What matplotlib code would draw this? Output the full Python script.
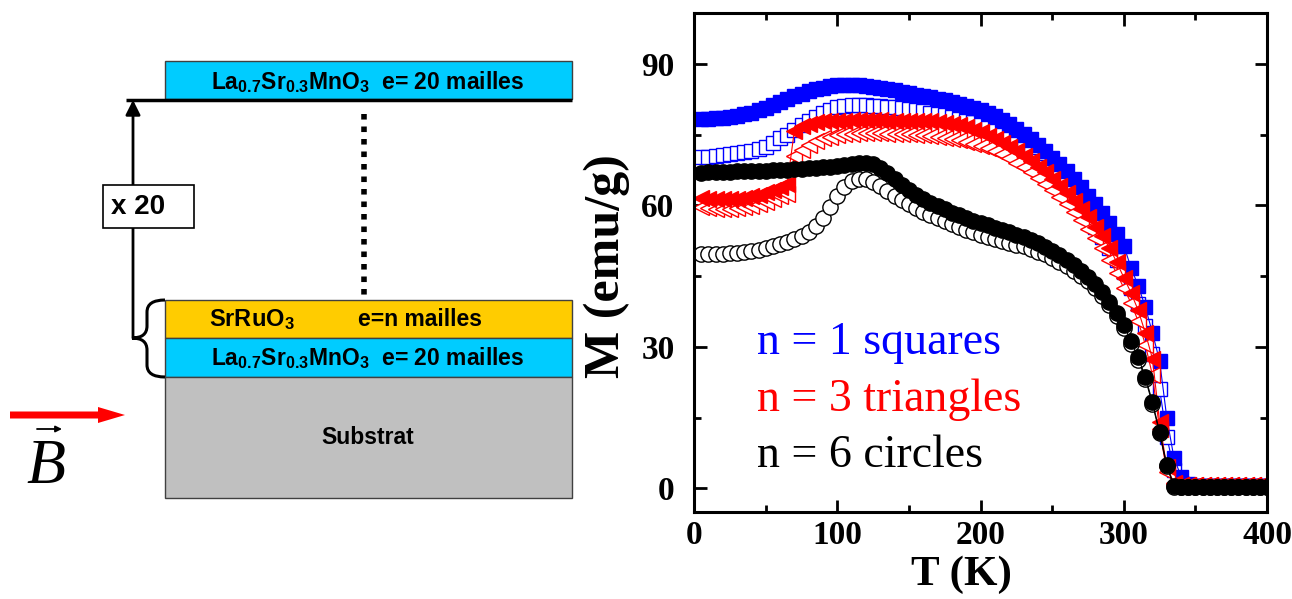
import matplotlib
matplotlib.use('Agg')
import matplotlib.pyplot as plt
from matplotlib.patches import Rectangle, FancyArrow, PathPatch
from matplotlib.path import Path

plt.rcParams['mathtext.fontset'] = 'custom'
plt.rcParams['mathtext.rm'] = 'Liberation Sans:bold'
plt.rcParams['mathtext.default'] = 'rm'

# temperature grid of the measurements (K)
T = list(range(5, 405, 5))

# n = 1 (squares), blue
m1_filled = [78.3, 78.4, 78.5, 78.6, 78.8, 79.0, 79.3, 79.7, 80.2, 80.7,
             81.3, 81.9, 82.5, 83.1, 83.7, 84.2, 84.6, 85.0, 85.3, 85.5,
             85.6, 85.6, 85.5, 85.3, 85.1, 84.9, 84.7, 84.4, 84.1, 83.8,
             83.5, 83.2, 82.9, 82.6, 82.3, 81.9, 81.5, 81.1, 80.7, 80.2,
             79.6, 78.9, 78.2, 77.3, 76.3, 75.2, 74.0, 72.8, 71.5, 70.1,
             68.7, 67.2, 65.6, 63.9, 62.1, 60.2, 58.3, 56.3, 54.0, 51.5,
             46.8, 43.0, 38.5, 33.0, 27.0, 15.0, 6.5, 2.5, 1.0, 0.6,
             0.5, 0.5, 0.5, 0.5, 0.5, 0.5, 0.5, 0.5, 0.5, 0.5]
m1_open = [70.2, 70.3, 70.5, 70.7, 70.9, 71.1, 71.3, 71.6, 71.9, 72.4,
           73.2, 74.2, 75.0, 76.0, 77.0, 77.9, 78.8, 79.6, 80.3, 80.8,
           81.1, 81.3, 81.3, 81.2, 81.1, 81.0, 80.9, 80.8, 80.6, 80.4,
           80.2, 80.0, 79.7, 79.4, 79.1, 78.8, 78.4, 78.0, 77.6, 77.1,
           76.5, 75.8, 75.0, 74.1, 73.1, 72.0, 70.8, 69.5, 68.1, 66.6,
           65.0, 63.3, 61.5, 59.6, 57.6, 55.5, 53.3, 51.0, 48.5, 45.8,
           42.5, 39.0, 34.5, 28.5, 21.0, 11.0, 4.0, 1.2, 0.7, 0.6,
           0.6, 0.6, 0.6, 0.6, 0.6, 0.6, 0.6, 0.6, 0.6, 0.6]

# n = 3 (triangles), red
m3_filled = [61.6, 61.4, 61.3, 61.3, 61.3, 61.4, 61.6, 61.9, 62.3, 62.8,
             63.3, 63.9, 64.5, 75.8, 76.8, 77.3, 77.6, 77.8, 77.9, 78.0,
             78.0, 78.1, 78.1, 78.1, 78.1, 78.1, 78.0, 78.0, 78.0, 78.0,
             77.9, 77.9, 77.8, 77.7, 77.5, 77.3, 77.0, 76.6, 76.1, 75.5,
             74.8, 74.1, 73.3, 72.4, 71.5, 70.5, 69.4, 68.2, 67.0, 65.6,
             64.2, 62.7, 61.0, 59.3, 57.5, 55.5, 53.5, 51.0, 48.0, 44.7,
             41.5, 37.8, 33.0, 27.5, 14.0, 4.5, 1.2, 0.8, 0.8, 0.8,
             0.8, 0.8, 0.8, 0.8, 0.8, 0.8, 0.8, 0.8, 0.8, 0.8]
m3_open = [59.6, 59.4, 59.3, 59.3, 59.3, 59.4, 59.6, 59.9, 60.3, 60.8,
           61.3, 61.9, 62.5, 70.5, 71.8, 72.8, 73.6, 74.2, 74.6, 74.9,
           75.1, 75.2, 75.3, 75.3, 75.3, 75.3, 75.2, 75.2, 75.1, 75.1,
           75.0, 74.9, 74.8, 74.6, 74.4, 74.1, 73.8, 73.4, 73.0, 72.6,
           72.2, 71.5, 70.8, 70.0, 69.1, 68.1, 67.0, 65.8, 64.6, 63.2,
           61.8, 60.3, 58.7, 57.0, 55.1, 53.1, 50.9, 48.5, 45.6, 42.5,
           39.3, 35.5, 30.5, 24.0, 12.5, 3.5, 1.0, 0.8, 0.8, 0.8,
           0.8, 0.8, 0.8, 0.8, 0.8, 0.8, 0.8, 0.8, 0.8, 0.8]

# n = 6 (circles), black
m6_filled = [66.9, 67.0, 67.0, 67.1, 67.1, 67.2, 67.2, 67.3, 67.3, 67.4,
             67.5, 67.5, 67.6, 67.7, 67.8, 67.9, 68.0, 68.1, 68.2, 68.4,
             68.5, 68.7, 68.9, 69.0, 68.8, 67.9, 66.8, 65.6, 64.4, 63.3,
             62.3, 61.4, 60.6, 59.9, 59.2, 58.5, 57.9, 57.3, 56.8, 56.3,
             55.8, 55.3, 54.8, 54.3, 53.8, 53.3, 52.7, 52.0, 51.2, 50.4,
             49.5, 48.5, 47.4, 46.2, 44.9, 43.4, 41.6, 39.5, 37.2, 34.7,
             31.2, 27.8, 23.7, 18.3, 12.0, 5.0, 0.6, 0.4, 0.4, 0.4,
             0.4, 0.4, 0.4, 0.4, 0.4, 0.4, 0.4, 0.4, 0.4, 0.4]
m6_open = [49.6, 49.6, 49.7, 49.8, 49.9, 50.0, 50.2, 50.4, 50.6, 50.9,
           51.3, 51.8, 52.3, 52.8, 53.5, 54.4, 55.6, 57.3, 59.6, 62.0,
           64.0, 65.2, 65.7, 65.6, 65.0, 64.1, 63.1, 62.1, 61.2, 60.3,
           59.5, 58.7, 58.0, 57.3, 56.6, 56.0, 55.4, 54.8, 54.3, 53.8,
           53.3, 52.9, 52.5, 52.1, 51.7, 51.3, 50.8, 50.2, 49.6, 48.9,
           48.1, 47.2, 46.2, 45.1, 43.9, 42.5, 40.8, 38.8, 36.6, 34.1,
           30.7, 27.3, 23.3, 17.9, 11.7, 4.7, 0.3, 0.2, 0.2, 0.2,
           0.2, 0.2, 0.2, 0.2, 0.2, 0.2, 0.2, 0.2, 0.2, 0.2]

legend_lines = ['n = 1 squares', 'n = 3 triangles', 'n = 6 circles']
legend_colors = ['#0000FF', '#FF0000', '#000000']

CYAN, GOLD, GREY = '#00CCFF', '#FFCC00', '#C0C0C0'
SANS_B = dict(family='Liberation Sans', weight='bold')
SERIF_B = dict(family='Liberation Serif', weight='bold')

fig = plt.figure(figsize=(12.92, 5.99), dpi=100)

# ---- left: layer schematic, drawn in pixel units ----
sk = fig.add_axes([0, 0, 1, 1])
sk.set_xlim(0, 1292)
sk.set_ylim(599, 0)
sk.axis('off')

for y0, y1, c in [(61, 99, CYAN), (300, 338, GOLD), (338, 377, CYAN), (377, 498, GREY)]:
    sk.add_patch(Rectangle((165, y0), 407, y1 - y0, facecolor=c,
                           edgecolor='#404040', lw=1))
lsmo = r'La$_{0.7}$Sr$_{0.3}$MnO$_3$  e= 20 mailles'
sk.text(368, 82, lsmo, ha='center', va='center', fontsize=16.5, **SANS_B)
sk.text(368, 358, lsmo, ha='center', va='center', fontsize=16.5, **SANS_B)
sk.text(252, 320, r'SrRuO$_3$', ha='center', va='center', fontsize=17, **SANS_B)
sk.text(420, 320, 'e=n mailles', ha='center', va='center', fontsize=16.5, **SANS_B)
sk.text(368, 438, 'Substrat', ha='center', va='center', fontsize=16.5, **SANS_B)

sk.plot([126, 572], [99.5, 99.5], color='black', lw=2.5, solid_capstyle='butt')
sk.plot([364, 364], [114, 298], color='black', lw=4, linestyle=(0, (1, 1.25)),
        dash_capstyle='butt')
sk.annotate('', xy=(133, 100), xytext=(133, 338),
            arrowprops=dict(arrowstyle='-|>', color='black', lw=2,
                            mutation_scale=22, shrinkA=0, shrinkB=0))
sk.add_patch(Rectangle((103, 185), 91, 43, facecolor='white', edgecolor='black',
                       lw=1.2, zorder=3))
sk.text(111, 207, 'x 20', ha='left', va='center', fontsize=20, zorder=4, **SANS_B)

brace = Path([(165, 300), (147, 300), (147, 312), (147, 326), (147, 338), (132, 338),
              (147, 338), (147, 350), (147, 365), (147, 377), (165, 377)],
             [Path.MOVETO, Path.CURVE3, Path.CURVE3, Path.LINETO, Path.CURVE3, Path.CURVE3,
              Path.CURVE3, Path.CURVE3, Path.LINETO, Path.CURVE3, Path.CURVE3])
sk.add_patch(PathPatch(brace, facecolor='none', edgecolor='black', lw=2.2))

sk.add_patch(FancyArrow(10, 415, 115, 0, width=7, head_width=16, head_length=27,
                        length_includes_head=True, color='red', lw=0))
sk.text(46, 483, 'B', fontsize=46, family='Liberation Serif', style='italic',
        ha='center', va='baseline')
sk.annotate('', xy=(62, 429), xytext=(37, 429),
            arrowprops=dict(arrowstyle='-|>', color='black', lw=1.3,
                            mutation_scale=9, shrinkA=0, shrinkB=0))

# ---- right: M(T) curves ----
ax = fig.add_axes([0.5372, 0.1452, 0.4435, 0.8331])

ax.plot(T, m1_open, color='#0000FF', lw=0.8, marker='s', ms=9.5, mfc='white',
        mec='#0000FF', mew=1.0)
ax.plot(T, m1_filled, color='#0000FF', lw=0.8, marker='s', ms=10, mec='#0000FF')
ax.plot(T, m3_open, color='#FF0000', lw=0.8, marker='<', ms=12, mfc='white',
        mec='#FF0000', mew=1.0)
ax.plot(T, m3_filled, color='#FF0000', lw=0.8, marker='<', ms=12, mec='#FF0000')
ax.plot(T, m6_open, color='black', lw=0.8, marker='o', ms=11, mfc='white',
        mec='black', mew=1.0)
ax.plot(T, m6_filled, color='black', lw=0.8, marker='o', ms=11, mec='black')

for i, (txt, col) in enumerate(zip(legend_lines, legend_colors)):
    ax.text(44, 28.4 - 11.9 * i, txt, color=col, fontsize=33,
            family='Liberation Serif', ha='left', va='baseline')

ax.set_xlim(0, 400)
ax.set_ylim(-5, 100.8)
ax.set_xticks([0, 100, 200, 300, 400])
ax.set_xticks([50, 150, 250, 350], minor=True)
ax.set_yticks([0, 30, 60, 90])
ax.set_yticks([15, 45, 75], minor=True)
ax.tick_params(which='both', direction='in', top=True, right=True, width=2)
ax.tick_params(which='major', length=9)
ax.tick_params(which='minor', length=5)
ax.tick_params(axis='x', which='major', pad=6)
ax.tick_params(axis='y', which='major', pad=14)
for lab in ax.get_xticklabels() + ax.get_yticklabels():
    lab.set_fontsize(24)
    lab.set_fontfamily('Liberation Serif')
    lab.set_fontweight('bold')
for sp in ax.spines.values():
    sp.set_linewidth(2.2)

ax.set_xlabel('T (K)', fontsize=31, **SERIF_B)
ax.set_ylabel('M (emu/g)', fontsize=36, **SERIF_B)
ax.xaxis.set_label_coords((961 - 694) / 573, -0.088)
ax.yaxis.set_label_coords(-0.112, 0.493)

fig.savefig('out.png', dpi=100)
plt.close(fig)
